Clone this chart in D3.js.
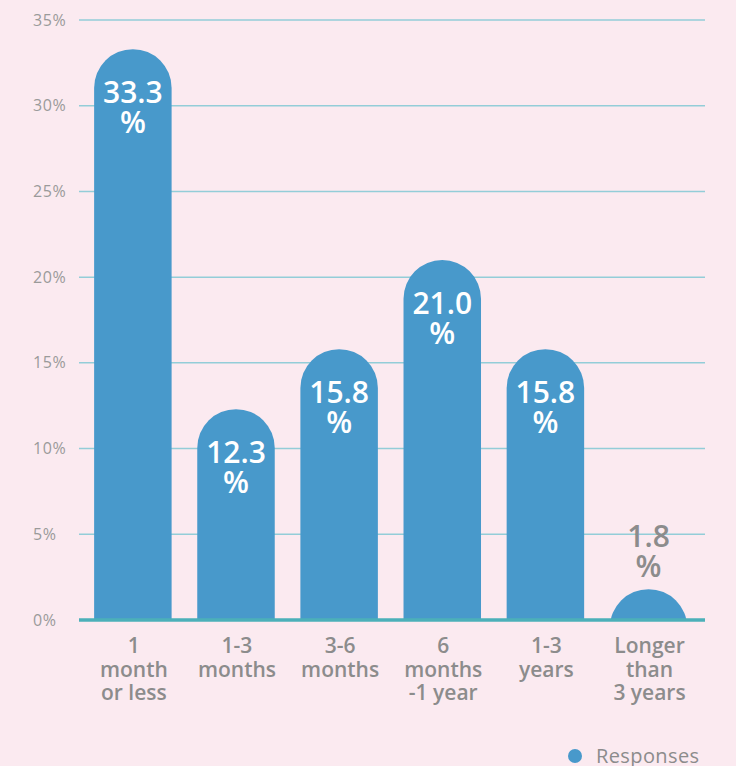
<!DOCTYPE html>
<html>
<head>
<meta charset="utf-8">
<script src="https://cdn.jsdelivr.net/npm/d3@7/dist/d3.min.js"></script>
<style>
  html, body { margin: 0; padding: 0; background: #fbeaf0; }
  svg { display: block; }
</style>
</head>
<body>
<svg id="chart" width="736" height="766"></svg>
<script>
// Time taken, share of responses per duration bucket
const categories = [
  ["1", "month", "or less"],
  ["1-3", "months"],
  ["3-6", "months"],
  ["6", "months", "-1 year"],
  ["1-3", "years"],
  ["Longer", "than", "3 years"]
];
const values = [33.3, 12.3, 15.8, 21.0, 15.8, 1.8];
const yTicks = [0, 5, 10, 15, 20, 25, 30, 35];
const seriesName = "Responses";

const W = 736, H = 766;
const plotLeft = 79, plotRight = 705, plotTop = 20, plotBottom = 620;

const svg = d3.select("#chart");
const font = "'Open Sans', 'Noto Sans', sans-serif";

const x = d3.scaleBand()
  .domain(d3.range(categories.length))
  .range([81.3, 700.1])
  .paddingInner(0.2486)
  .paddingOuter(0.1243);

const y = d3.scaleLinear().domain([0, 35]).range([plotBottom, plotTop]);

// grid lines
svg.append("g")
  .selectAll("line")
  .data(yTicks.filter(d => d > 0))
  .join("line")
  .attr("x1", plotLeft).attr("x2", plotRight)
  .attr("y1", d => y(d)).attr("y2", d => y(d))
  .attr("stroke", "#93cdd8").attr("stroke-width", 1.5);

// y axis labels, left aligned
const yAxis = d3.axisLeft(y).tickValues(yTicks).tickFormat(d => d + "%").tickSize(0).tickPadding(0);
const ya = svg.append("g").attr("transform", "translate(33,0)").call(yAxis);
ya.select(".domain").remove();
ya.selectAll("text")
  .attr("text-anchor", "start")
  .attr("font-family", font).attr("font-size", 16).attr("font-weight", 400)
  .attr("letter-spacing", 0.6)
  .attr("fill", "#9a9a9a");

// clip everything above the baseline
svg.append("clipPath").attr("id", "plotclip")
  .append("rect").attr("x", 0).attr("y", 0).attr("width", W).attr("height", plotBottom);

// bars with fully rounded tops
function barPath(i) {
  const x0 = x(i), w = x.bandwidth(), r = w / 2;
  const yt = y(values[i]);
  const yb = plotBottom + r;
  return `M${x0},${yb} L${x0},${yt + r} A${r},${r} 0 0 1 ${x0 + w},${yt + r} L${x0 + w},${yb} Z`;
}
svg.append("g").attr("clip-path", "url(#plotclip)")
  .selectAll("path")
  .data(values)
  .join("path")
  .attr("d", (d, i) => barPath(i))
  .attr("fill", "#4899cb");

// baseline
svg.append("line")
  .attr("x1", plotLeft).attr("x2", plotRight)
  .attr("y1", plotBottom).attr("y2", plotBottom)
  .attr("stroke", "#4bb0b9").attr("stroke-width", 3.5);

// value labels: inside tall bars, above short ones
const lbl = svg.append("g");
values.forEach((v, i) => {
  const cx = x(i) + x.bandwidth() / 2;
  const h = plotBottom - y(v);
  const inside = h > 80;
  const b1 = inside ? y(v) + 54 : y(v) - 42;
  const t = lbl.append("text")
    .attr("text-anchor", "middle")
    .attr("font-family", font).attr("font-size", 30).attr("font-weight", 600)
    .attr("fill", inside ? "#ffffff" : "#8c8c8c");
  t.append("tspan").attr("x", cx).attr("y", b1).text(v.toFixed(1));
  t.append("tspan").attr("x", cx).attr("y", b1 + 30).text("%");
});

// category labels
const cat = svg.append("g");
categories.forEach((lines, i) => {
  const cx = x(i) + x.bandwidth() / 2 + 1;
  const t = cat.append("text")
    .attr("text-anchor", "middle")
    .attr("font-family", font).attr("font-size", 21).attr("font-weight", 600)
    .attr("fill", "#8c8c8c");
  lines.forEach((s, k) => {
    t.append("tspan").attr("x", cx).attr("y", 653 + k * 23.5).text(s);
  });
});

// legend
const lg = svg.append("g");
lg.append("circle").attr("cx", 575).attr("cy", 756).attr("r", 7).attr("fill", "#4899cb");
lg.append("text").attr("x", 596).attr("y", 763)
  .attr("font-family", font).attr("font-size", 20).attr("font-weight", 400)
  .attr("letter-spacing", 0.4)
  .attr("fill", "#8c8c8c").text(seriesName);
</script>
</body>
</html>
